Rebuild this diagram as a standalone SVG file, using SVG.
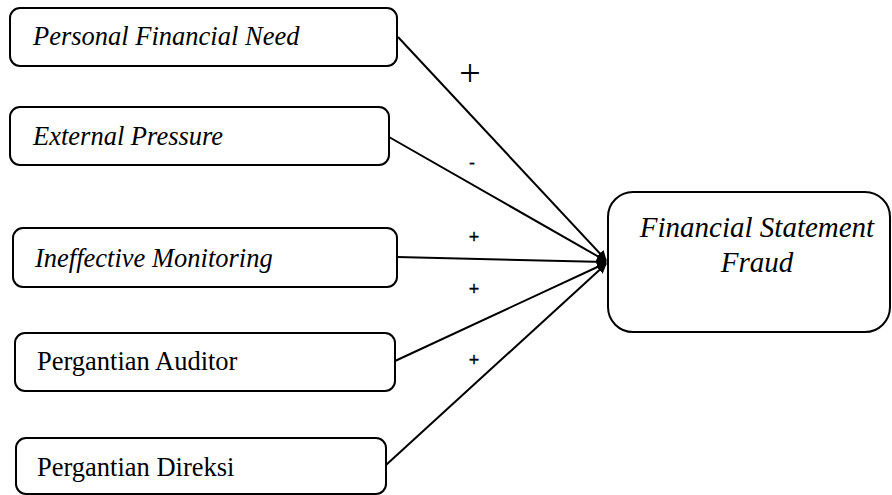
<svg xmlns="http://www.w3.org/2000/svg" width="892" height="495" viewBox="0 0 892 495">
<style>
.box{fill:#fff;stroke:#000;stroke-width:2}
.t{font-family:"Liberation Serif","Times New Roman",serif;font-size:26.5px;fill:#000}
.i{font-style:italic}
.c{stroke:#000;stroke-width:2;fill:none}
.s{font-family:"Liberation Sans",Arial,sans-serif;font-size:18px;fill:#000;stroke:#000;stroke-width:0.3}
</style>
<defs>
<marker id="ah" markerWidth="10" markerHeight="10" refX="9" refY="5" orient="auto" markerUnits="userSpaceOnUse">
<path d="M0,0 L10,5 L0,10 z" fill="#000"/>
</marker>
</defs>
<rect width="892" height="495" fill="#fff"/>
<g id="connectors">
<line class="c" x1="398" y1="37" x2="606" y2="260" marker-end="url(#ah)"/>
<line class="c" x1="389" y1="137" x2="606" y2="261" marker-end="url(#ah)"/>
<line class="c" x1="397" y1="257" x2="606" y2="262" marker-end="url(#ah)"/>
<line class="c" x1="395" y1="361" x2="606" y2="263" marker-end="url(#ah)"/>
<line class="c" x1="386" y1="465" x2="606" y2="264" marker-end="url(#ah)"/>
<text x="470" y="86" text-anchor="middle" font-family="Liberation Serif, serif" font-size="38" fill="#000">+</text>
<text class="s" x="472" y="169" text-anchor="middle">-</text>
<text class="s" x="474" y="243" text-anchor="middle">+</text>
<text class="s" x="474" y="295" text-anchor="middle">+</text>
<text class="s" x="474" y="366" text-anchor="middle">+</text>
</g>
<g id="n1">
<rect class="box" x="10" y="8" width="387" height="58" rx="10"/>
<text class="t i" x="33" y="45">Personal Financial Need</text>
</g>
<g id="n2">
<rect class="box" x="10" y="107" width="379" height="58" rx="10"/>
<text class="t i" x="33" y="145">External Pressure</text>
</g>
<g id="n3">
<rect class="box" x="13" y="228" width="384" height="59" rx="10"/>
<text class="t i" x="35" y="267">Ineffective Monitoring</text>
</g>
<g id="n4">
<rect class="box" x="15" y="333" width="380" height="58" rx="10"/>
<text class="t" x="37" y="370">Pergantian Auditor</text>
</g>
<g id="n5">
<rect class="box" x="16" y="438" width="370" height="56" rx="10"/>
<text class="t" x="37" y="476">Pergantian Direksi</text>
</g>
<g id="target">
<rect class="box" x="608" y="192" width="282" height="140" rx="25"/>
<text class="t i" x="757" y="237" text-anchor="middle" style="font-size:29px">Financial Statement</text>
<text class="t i" x="757" y="272" text-anchor="middle" style="font-size:29px">Fraud</text>
</g>
</svg>
